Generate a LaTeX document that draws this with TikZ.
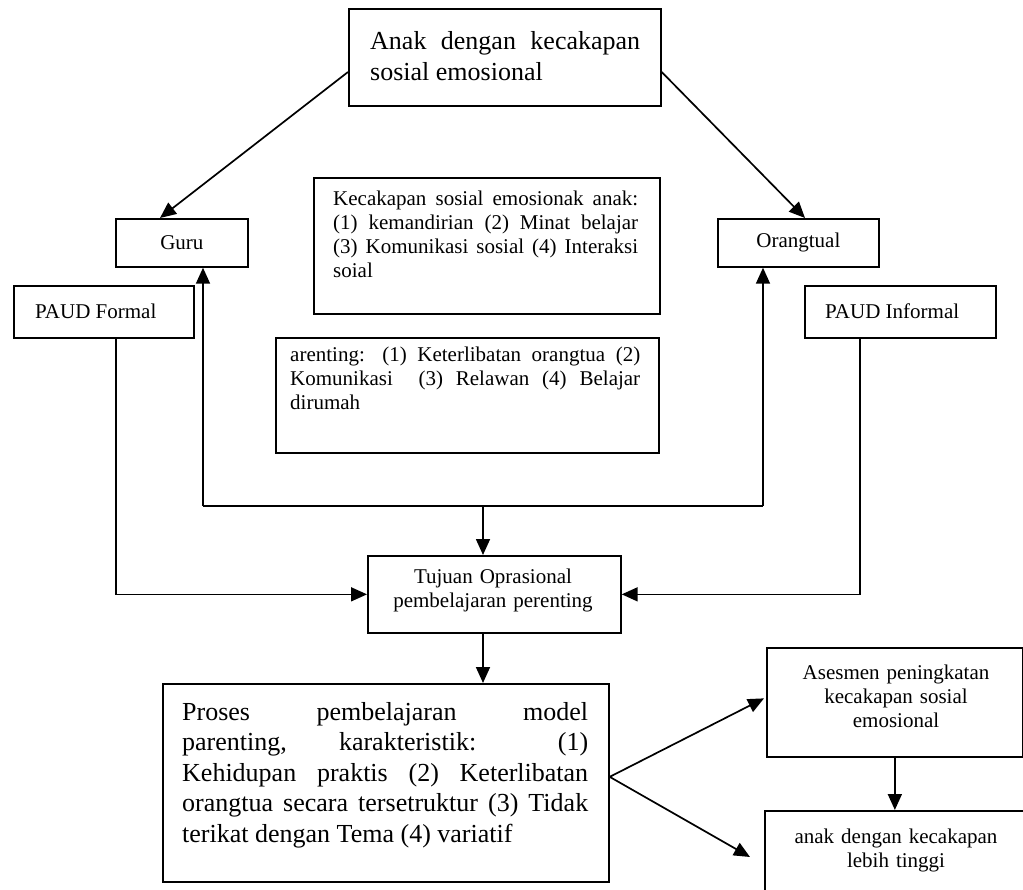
\documentclass[tikz,border=0pt]{standalone}
\usepackage{fontspec}
\setmainfont{Liberation Serif}
\usetikzlibrary{arrows.meta,calc}
\hyphenpenalty=10000
\exhyphenpenalty=10000
\tolerance=10000
\begin{document}
\begin{tikzpicture}[x=1pt,y=-1pt,
  box/.style={draw=black,line width=1.7pt,inner sep=0pt,anchor=north west},
  link/.style={line width=1.7pt},
  arr/.style={link,-{Triangle[length=16pt,width=14pt]}},
  bigtext/.style={font=\fontsize{26}{30.5}\selectfont},
  smalltext/.style={font=\fontsize{21}{24}\selectfont},
  para/.style={anchor=base west,inner sep=0pt,align=justify},
  centred/.style={anchor=base,inner sep=0pt,align=center},
]
\useasboundingbox (0,0) rectangle (1023,890);

% top goal
\node[box,minimum width=312pt,minimum height=97pt] (top) at (348,8) {};
\node[para,bigtext,text width=270pt] (toptxt) at (370,50)
  {Anak dengan kecakapan\linebreak sosial emosional};

% teacher / parent
\node[box,smalltext,minimum width=132pt,minimum height=48pt] (guru) at (115,218) {Guru};
\node[box,smalltext,minimum width=161pt,minimum height=48pt] (ortu) at (717,218) {Orangtual};

% formal / informal
\node[box,minimum width=180pt,minimum height=52pt] (formal) at (13,285) {};
\node[smalltext,anchor=west,inner sep=0pt] (formaltxt) at (35,311) {PAUD Formal};
\node[box,minimum width=191pt,minimum height=52pt] (informal) at (804,285) {};
\node[smalltext,anchor=west,inner sep=0pt] (informaltxt) at (825,311) {PAUD Informal};

% social-emotional skills
\node[box,minimum width=346pt,minimum height=136pt] (skill) at (313,177) {};
\node[para,smalltext,text width=305pt] (skilltxt) at (333,206)
  {Kecakapan sosial emosionak anak:\linebreak (1) kemandirian (2) Minat belajar\linebreak
   (3) Komunikasi sosial (4) Interaksi\linebreak soial};

% parenting
\node[box,minimum width=383pt,minimum height=115pt] (parent) at (275,337) {};
\node[para,smalltext,text width=350pt] (parenttxt) at (290,362)
  {arenting: (1) Keterlibatan orangtua (2)\linebreak Komunikasi\ \ (3) Relawan (4) Belajar\linebreak dirumah};

% operational goal
\node[box,minimum width=253pt,minimum height=77pt] (tujuan) at (367,555) {};
\node[centred,smalltext,text width=250pt] (tujuantxt) at (493,583)
  {Tujuan Oprasional\\pembelajaran perenting};

% learning process
\node[box,minimum width=446pt,minimum height=198pt] (proses) at (162,683) {};
\node[para,bigtext,text width=406pt] (prosestxt) at (182,720)
  {Proses pembelajaran model\linebreak parenting, karakteristik: (1)\linebreak
   Kehidupan praktis (2) Keterlibatan\linebreak orangtua secara tersetruktur (3) Tidak\linebreak
   terikat dengan Tema (4) variatif};

% assessment and outcome
\node[box,minimum width=256pt,minimum height=109pt] (asesmen) at (766,647) {};
\node[centred,smalltext,text width=250pt] (asesmentxt) at (896,679)
  {Asesmen peningkatan\\kecakapan sosial\\emosional};
\node[box,minimum width=266pt,minimum height=100pt] (anak) at (764,810) {};
\node[centred,smalltext,text width=250pt] (anaktxt) at (896,843)
  {anak dengan kecakapan\\lebih tinggi};

% connectors
\draw[arr] ($(top.north west)+(0,64)$) -- ($(guru.north west)+(45,0)$);
\draw[arr] ($(top.north east)+(0,64)$) -- ($(ortu.north west)+(88,0)$);

\coordinate (jl) at (203,506);
\coordinate (jr) at (763,506);
\coordinate (jm) at (483,506);
\draw[link] (jl) -- (jr);
\draw[arr] (jl) -- (jl |- guru.south);
\draw[arr] (jr) -- (jr |- ortu.south);
\draw[arr] (jm) -- (jm |- tujuan.north);

\draw[arr] ($(formal.south west)+(103,0)$) |- (tujuan.west);
\draw[arr] ($(informal.south west)+(56,0)$) |- (tujuan.east);

\draw[arr] (jm |- tujuan.south) -- (jm |- proses.north);

\coordinate (pe) at ($(proses.east)+(0,-6)$);
\coordinate (ak) at (750,857);
\draw[arr] (pe) -- ($(asesmen.west)+(-2,-4)$);
\draw[arr] (pe) -- (ak);
\draw[arr] (asesmen.south) -- (asesmen.south |- anak.north);
\end{tikzpicture}
\end{document}
